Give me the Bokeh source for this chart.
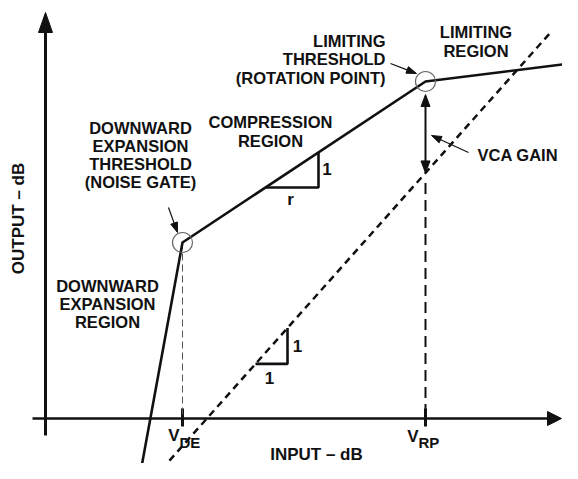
import numpy as np
from bokeh.plotting import figure
from bokeh.models import Range1d
from bokeh.core.properties import value
from bokeh.embed import file_html
from bokeh.resources import INLINE

# ---------------- data (input dB vs output dB, schematic units) ----------------
transfer_in = [95, 137, 380, 533]      # expansion start, V_DE, V_RP, end of limiting
transfer_out = [-54, 176, 337, 356]
unity_in = [108, 505]                  # 1:1 reference line
unity_out = [-60, 386]
v_de = 137
v_rp = 380
tick_names = ["V_DE", "V_RP"]

noise_gate_lines = ["DOWNWARD", "EXPANSION", "THRESHOLD", "(NOISE GATE)"]
limit_thr_lines = ["LIMITING", "THRESHOLD", "(ROTATION POINT)"]
limit_reg_lines = ["LIMITING", "REGION"]
compress_lines = ["COMPRESSION", "REGION"]
expand_lines = ["DOWNWARD", "EXPANSION", "REGION"]

FONT = value("Liberation Sans")
INK = "#111111"
LBL = "16.5px"
TY = 6  # baseline correction for text placement

p = figure(width=562, height=463, x_range=Range1d(-45, 517), y_range=Range1d(-45, 418),
           output_backend="svg", toolbar_location=None, min_border=0,
           x_axis_type=None, y_axis_type=None)
p.grid.visible = False
p.outline_line_color = None
p.background_fill_color = "white"


def head(tx, ty, dx, dy, length, width):
    n = np.hypot(dx, dy)
    ux, uy = dx / n, dy / n
    bx, by = tx - ux * length, ty - uy * length
    px, py = -uy * width / 2, ux * width / 2
    return [tx, bx + px, bx - px], [ty, by + py, by - py]


heads_x, heads_y = [], []

# axes
p.line([0, 0], [-17, 392], line_color=INK, line_width=3)
hx, hy = head(0, 406, 0, 1, 20, 14); heads_x.append(hx); heads_y.append(hy)
p.line([-13, 504], [0, 0], line_color=INK, line_width=2.6)
hx, hy = head(516, 0, 1, 0, 14, 14); heads_x.append(hx); heads_y.append(hy)

# ticks
for xv in (v_de, v_rp):
    p.line([xv, xv], [-8, 10], line_color=INK, line_width=3)

# unity (1:1) dashed line
p.line(unity_in, unity_out, line_color=INK, line_width=2.5, line_dash="7 5")

# vertical guides
slope_u = (unity_out[1] - unity_out[0]) / (unity_in[1] - unity_in[0])
unity_at_rp = unity_out[0] + (v_rp - unity_in[0]) * slope_u
p.line([v_de, v_de], [transfer_out[1], 0], line_color="#555555", line_width=1, line_dash="7 4")
p.line([v_rp, v_rp], [unity_at_rp - 10, 0], line_color=INK, line_width=2, line_dash="11 6")

# transfer curve
p.line(transfer_in, transfer_out, line_color=INK, line_width=2.6)

# threshold circles
p.scatter([transfer_in[1], transfer_in[2]], [transfer_out[1], transfer_out[2]], marker="circle",
          size=20, fill_color=None, line_color="#666666", line_width=1.2)

# VCA gain double arrow
top_tip = transfer_out[2] - 13
p.line([v_rp, v_rp], [top_tip - 8, unity_at_rp + 8], line_color=INK, line_width=2)
hx, hy = head(v_rp, top_tip, 0, 1, 12, 9); heads_x.append(hx); heads_y.append(hy)
hx, hy = head(v_rp, unity_at_rp, 0, -1, 12, 9); heads_x.append(hx); heads_y.append(hy)

# leader arrows
leaders = [((345, 355), (371, 345)), ((423, 266), (386, 283)), ((123, 211), (132, 186))]
for (x0, y0), (x1, y1) in leaders:
    dx, dy = x1 - x0, y1 - y0
    n = np.hypot(dx, dy)
    p.line([x0, x1 - dx / n * 6], [y0, y1 - dy / n * 6], line_color=INK, line_width=1.2)
    hx, hy = head(x1, y1, dx, dy, 10, 7); heads_x.append(hx); heads_y.append(hy)

p.patches(heads_x, heads_y, fill_color=INK, line_color=INK, line_width=1)

# slope triangles
slope_c = (transfer_out[2] - transfer_out[1]) / (transfer_in[2] - transfer_in[1])
cx0 = 220; cy0 = transfer_out[1] + (cx0 - transfer_in[1]) * slope_c; run_c = 53
p.line([cx0, cx0 + run_c, cx0 + run_c], [cy0, cy0, cy0 + run_c * slope_c], line_color=INK, line_width=2.6)
ux0 = 210; uy0 = unity_out[0] + (ux0 - unity_in[0]) * slope_u; run_u = 32
p.line([ux0, ux0 + run_u, ux0 + run_u], [uy0, uy0, uy0 + run_u * slope_u], line_color=INK, line_width=2.6)


def block(x, y_list, lines, align):
    p.text([x] * len(lines), [y + TY for y in y_list], text=lines, text_font=FONT, text_font_size=LBL,
           text_font_style="bold", text_color=INK, text_align=align, text_baseline="alphabetic")


block(95, [285, 267, 248.5, 230.5], noise_gate_lines, "center")
block(340, [372, 353.5, 335], limit_thr_lines, "right")
block(430.5, [380.5, 362], limit_reg_lines, "center")
block(225, [290.5, 272], compress_lines, "center")
block(62, [127, 108.5, 91], expand_lines, "center")
block(432, [258], ["VCA GAIN"], "left")
p.text([281.5, 245, 252, 224], [243.5 + TY, 213 + TY, 67 + TY, 35 + TY], text=["1", "r", "1", "1"],
       text_font=FONT, text_font_size="17px", text_font_style="bold", text_color=INK,
       text_align="center", text_baseline="alphabetic")

# tick labels with subscripts
p.text([v_de - 3, v_rp - 7], [-23 + TY, -24 + TY], text=[t.split("_")[0] for t in tick_names],
       text_font=FONT, text_font_size="17px", text_font_style="bold", text_color=INK,
       text_align="right", text_baseline="alphabetic")
p.text([v_de - 3, v_rp - 7], [-30 + TY, -30 + TY], text=[t.split("_")[1] for t in tick_names],
       text_font=FONT, text_font_size="15px", text_font_style="bold", text_color=INK,
       text_align="left", text_baseline="alphabetic")

# axis titles
p.text([271], [-41.5 + TY], text=["INPUT – dB"], text_font=FONT, text_font_size="17px",
       text_font_style="bold", text_color=INK, text_align="center", text_baseline="alphabetic")
p.text([-21 - TY], [200], text=["OUTPUT – dB"], text_font=FONT, text_font_size="17px", angle=np.pi / 2,
       text_font_style="bold", text_color=INK, text_align="center", text_baseline="alphabetic")

open("out.html", "w").write(file_html(p, INLINE))
